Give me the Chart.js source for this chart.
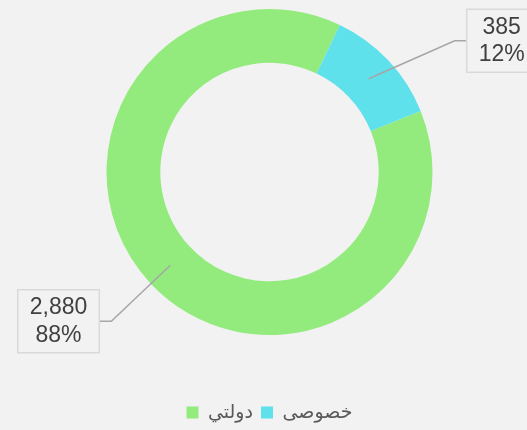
<!DOCTYPE html>
<html>
<head>
<meta charset="utf-8">
<script src="https://cdn.jsdelivr.net/npm/chart.js@4.4.0/dist/chart.umd.min.js"></script>
<style>
  html, body { margin: 0; padding: 0; background: #f2f2f2; }
  #wrap { width: 527px; height: 430px; }
</style>
</head>
<body>
<div id="wrap"><canvas id="pieChart" width="527" height="430"></canvas></div>
<script>
// chart data
const categories = ['دولتي', 'خصوصی'];
const counts = [2880, 385];
const sliceColors = ['#93eb7e', '#5fe1ec'];

// where each callout elbow sits, relative to the slice centre
const calloutOffsets = [[-59, 56], [86, -38]];

const calloutPlugin = {
    id: 'callouts',
    afterDatasetsDraw(chart) {
        const ctx = chart.ctx;
        const meta = chart.getDatasetMeta(0);
        const total = counts.reduce((a, b) => a + b, 0);
        ctx.save();
        ctx.font = '23px "Liberation Sans", Arial, sans-serif';
        meta.data.forEach((arc, i) => {
            const p = arc.getCenterPoint();
            const ex = p.x + calloutOffsets[i][0];
            const ey = p.y + calloutOffsets[i][1];
            const dir = calloutOffsets[i][0] < 0 ? -1 : 1;
            const edge = ex + dir * 12;

            // leader line
            ctx.strokeStyle = '#a6a6a6';
            ctx.lineWidth = 1.5;
            ctx.beginPath();
            ctx.moveTo(p.x, p.y);
            ctx.lineTo(ex, ey);
            ctx.lineTo(edge, ey);
            ctx.stroke();

            // label box
            const lines = [counts[i].toLocaleString('en-US'), Math.round(counts[i] / total * 100) + '%'];
            const w = Math.max(...lines.map(t => ctx.measureText(t).width)) + 24;
            const h = 63;
            const bx = dir < 0 ? edge - w : edge;
            const by = ey - h / 2;
            ctx.fillStyle = '#f2f2f2';
            ctx.fillRect(bx, by, w, h);
            ctx.strokeStyle = '#d9d9d9';
            ctx.lineWidth = 1.5;
            ctx.strokeRect(bx, by, w, h);

            ctx.fillStyle = '#404040';
            ctx.textAlign = 'center';
            ctx.textBaseline = 'middle';
            ctx.fillText(lines[0], bx + w / 2, ey - 13.5);
            ctx.fillText(lines[1], bx + w / 2, ey + 14);
        });
        ctx.restore();
    }
};

new Chart(document.getElementById('pieChart'), {
    type: 'doughnut',
    data: {
        labels: categories,
        datasets: [{
            data: counts,
            backgroundColor: sliceColors,
            borderWidth: 0
        }]
    },
    options: {
        responsive: false,
        animation: false,
        rotation: 68,
        cutout: '67%',
        layout: { padding: { top: 9, left: 12, right: 0, bottom: 0 } },
        plugins: {
            tooltip: { enabled: false },
            legend: {
                position: 'bottom',
                maxHeight: 95,
                title: { display: true, text: '', font: { size: 12, lineHeight: 1 }, padding: { top: 48, bottom: 0 } },
                labels: {
                    boxWidth: 12,
                    boxHeight: 12,
                    padding: 8,
                    color: '#595959',
                    font: { size: 19, family: 'Arial, "DejaVu Sans", sans-serif' }
                }
            }
        }
    },
    plugins: [calloutPlugin]
});
</script>
</body>
</html>
